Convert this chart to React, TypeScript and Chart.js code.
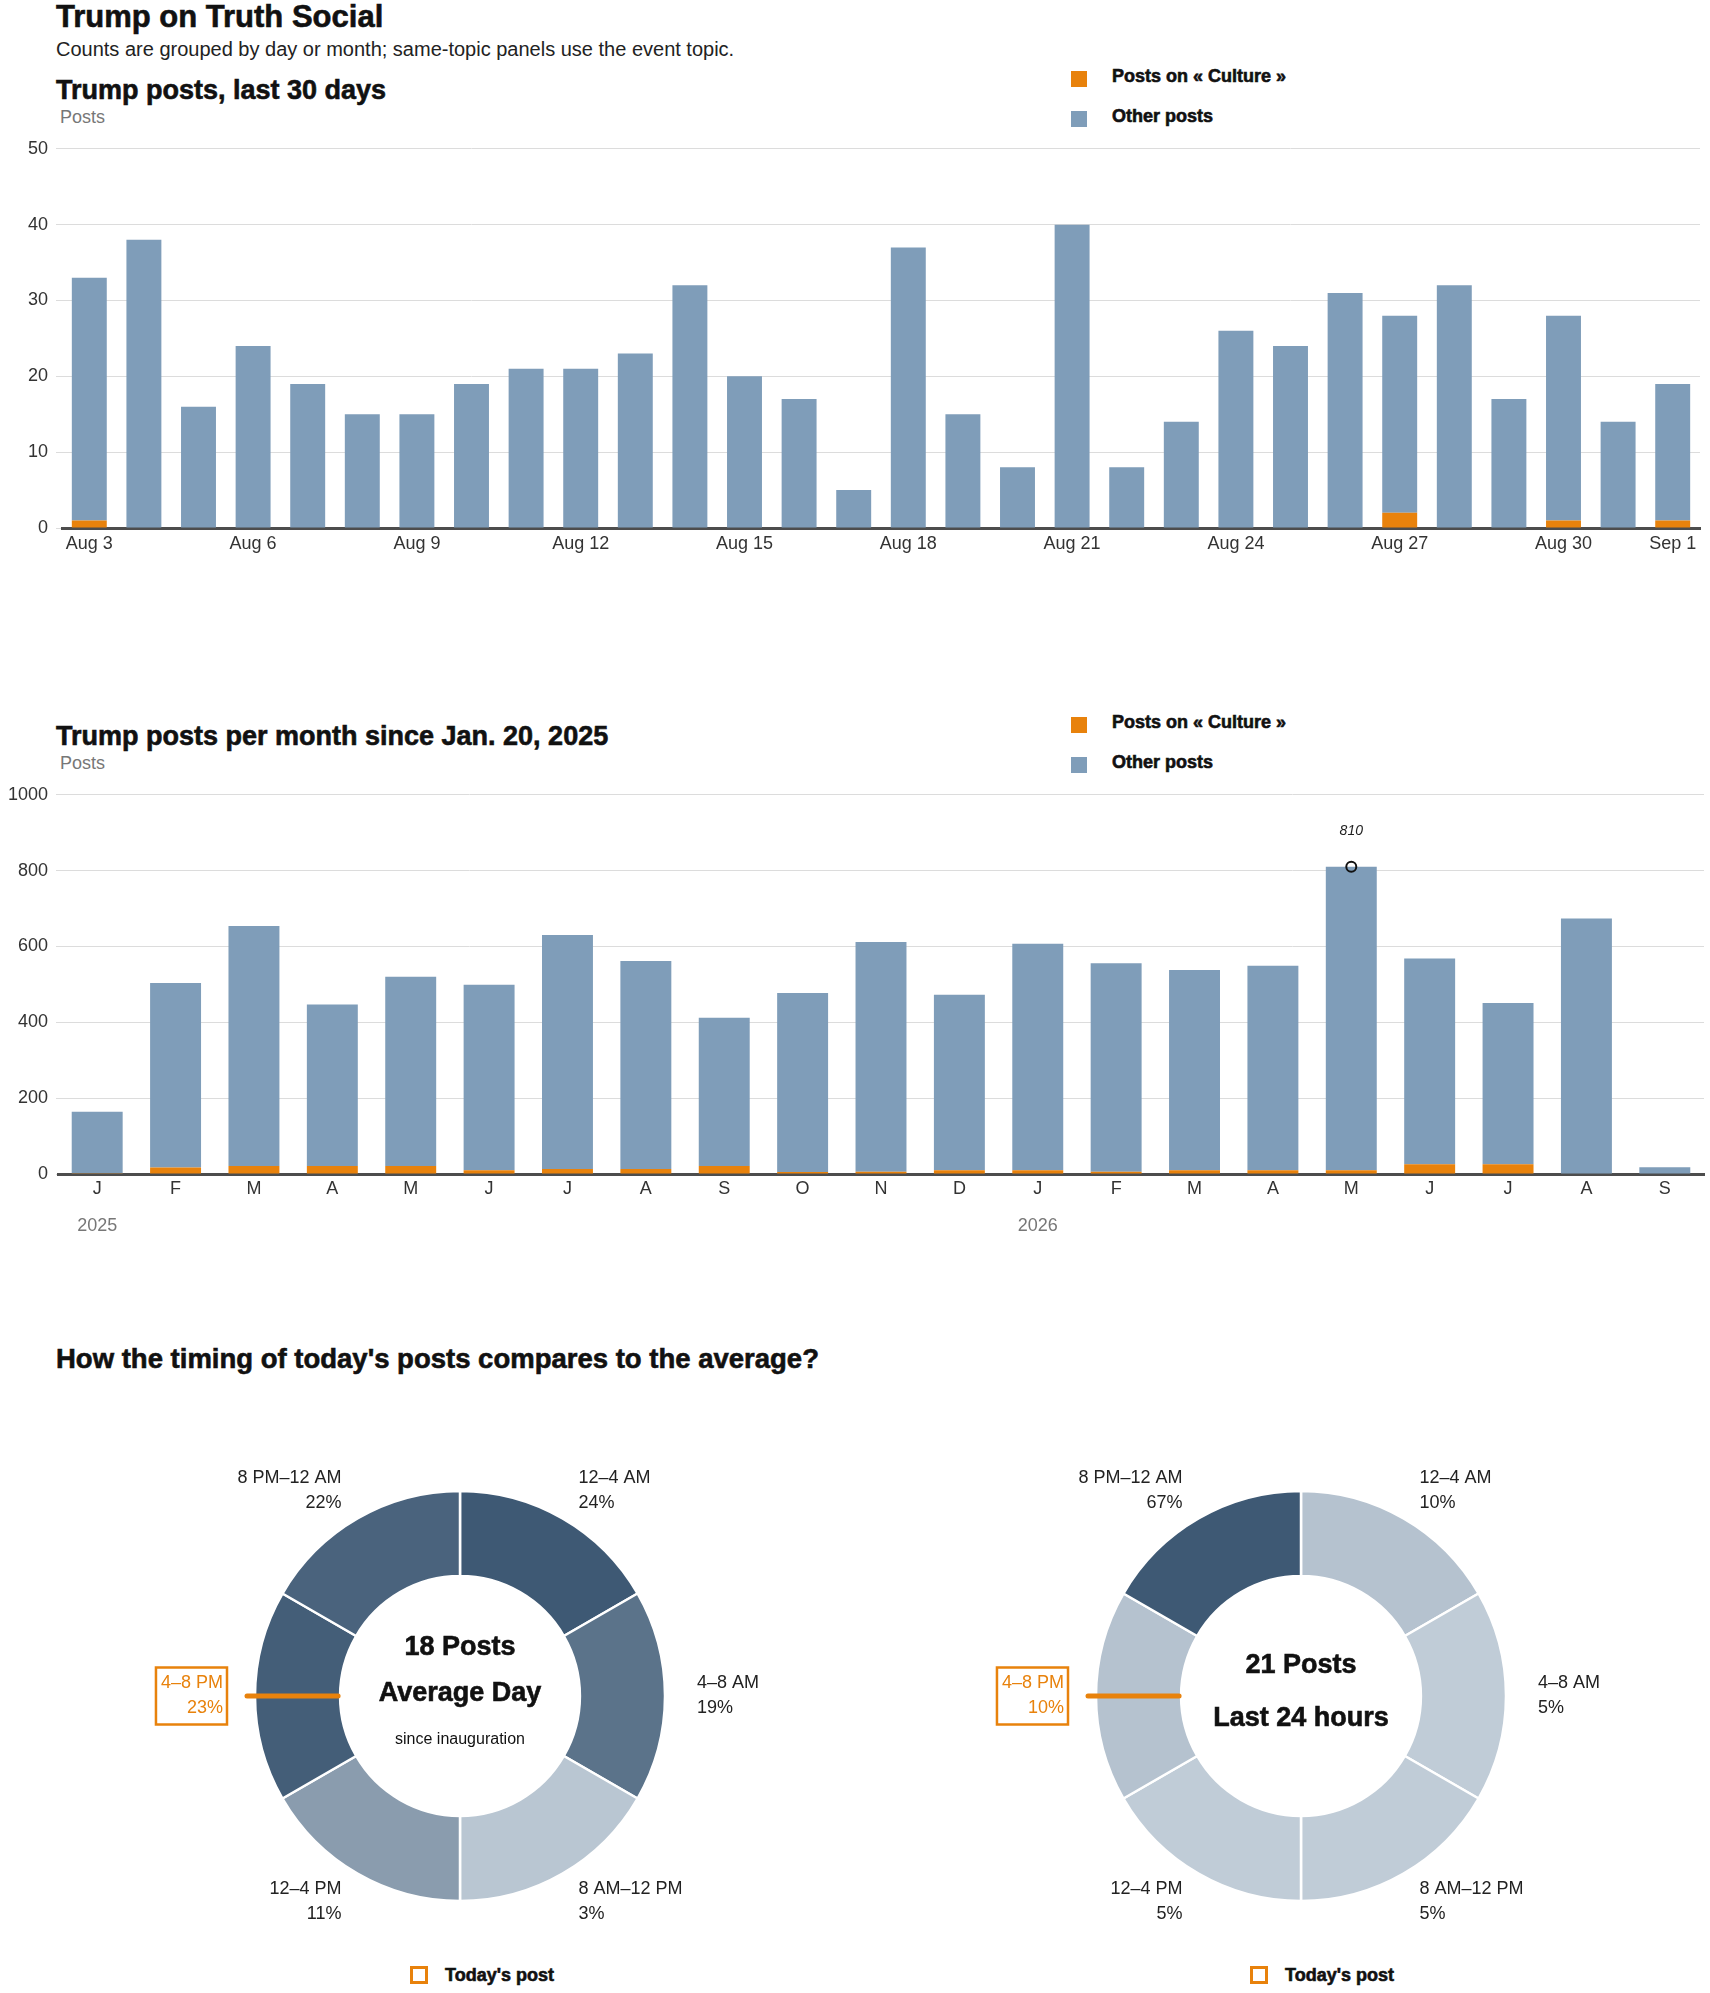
import { useEffect, useRef, type ReactNode } from 'react';
import { Chart, registerables, type ChartConfiguration, type Plugin, type ArcElement } from 'chart.js';

Chart.register(...registerables);

const FONT = '"Liberation Sans", Arial, sans-serif';
Chart.defaults.font.family = FONT;

const ORANGE = '#e8820c';
const BLUE = '#7f9db9';
const GRID = '#dcdcdc';
const AXIS = '#4d4d4d';
const TICK = '#333333';

// daily panel (Aug 3 -> Sep 1)
const dayLabels = [
  'Aug 3', 'Aug 4', 'Aug 5', 'Aug 6', 'Aug 7', 'Aug 8', 'Aug 9', 'Aug 10', 'Aug 11', 'Aug 12',
  'Aug 13', 'Aug 14', 'Aug 15', 'Aug 16', 'Aug 17', 'Aug 18', 'Aug 19', 'Aug 20', 'Aug 21', 'Aug 22',
  'Aug 23', 'Aug 24', 'Aug 25', 'Aug 26', 'Aug 27', 'Aug 28', 'Aug 29', 'Aug 30', 'Aug 31', 'Sep 1',
];
const dailyCulture = [1, 0, 0, 0, 0, 0, 0, 0, 0, 0, 0, 0, 0, 0, 0, 0, 0, 0, 0, 0, 0, 0, 0, 0, 2, 0, 0, 1, 0, 1];
const dailyOther = [32, 38, 16, 24, 19, 15, 15, 19, 21, 21, 23, 32, 20, 17, 5, 37, 15, 8, 40, 8, 14, 26, 24, 31, 26, 32, 17, 27, 14, 18];
const dailyTicks = [0, 10, 20, 30, 40, 50];

// monthly panel (Jan 2025 -> Sep 2026)
const monthLabels = ['J', 'F', 'M', 'A', 'M', 'J', 'J', 'A', 'S', 'O', 'N', 'D', 'J', 'F', 'M', 'A', 'M', 'J', 'J', 'A', 'S'];
const monthCulture = [2, 17, 21, 21, 21, 10, 13, 13, 21, 5, 6, 10, 10, 6, 10, 10, 10, 26, 26, 0, 0];
const monthOther = [162, 487, 633, 426, 499, 489, 617, 549, 391, 472, 606, 463, 597, 550, 528, 539, 800, 542, 425, 674, 18];
const monthTicks = [0, 200, 400, 600, 800, 1000];
const yearStarts = [
  { index: 0, label: '2025' },
  { index: 12, label: '2026' },
];

// donuts
const slotLabels = ['12–4 AM', '4–8 AM', '8 AM–12 PM', '12–4 PM', '4–8 PM', '8 PM–12 AM'];
const slotHours = [4, 4, 4, 4, 4, 4];
const averageShare = [24, 19, 3, 11, 23, 22];
const todayShare = [10, 5, 5, 5, 10, 67];
const highlightSlot = 4;

const LIGHT = [202, 213, 223];
const DARK = [62, 89, 116];
function shareColor(v: number, max: number) {
  const t = v / max;
  const c = LIGHT.map((l, k) => Math.round(l + (DARK[k] - l) * t));
  return `rgb(${c[0]}, ${c[1]}, ${c[2]})`;
}

function Text({ x, baseline, size, weight = 400, color = '#111', heavy = false, children }: {
  x: number; baseline: number; size: number; weight?: number; color?: string; heavy?: boolean; children: ReactNode;
}) {
  return (
    <div
      style={{
        position: 'absolute',
        left: x,
        top: baseline - 0.8465 * size,
        fontFamily: FONT,
        fontSize: size,
        fontWeight: weight,
        lineHeight: 1,
        color,
        whiteSpace: 'nowrap',
        WebkitTextStroke: heavy ? `0.6px ${color}` : undefined,
      }}
    >
      {children}
    </div>
  );
}

function SeriesLegend({ shift }: { shift: number }) {
  return (
    <>
      <div style={{ position: 'absolute', left: 1071, top: 71 + shift, width: 16, height: 16, background: ORANGE }} />
      <Text x={1112} baseline={82 + shift} size={18} weight={700} heavy>Posts on « Culture »</Text>
      <div style={{ position: 'absolute', left: 1071, top: 111 + shift, width: 16, height: 16, background: BLUE }} />
      <Text x={1112} baseline={122 + shift} size={18} weight={700} heavy>Other posts</Text>
    </>
  );
}

function DailyChart() {
  const canvasRef = useRef<HTMLCanvasElement | null>(null);
  useEffect(() => {
    if (!canvasRef.current) return;
    const config: ChartConfiguration<'bar'> = {
      type: 'bar',
      data: {
        labels: dayLabels,
        datasets: [
          { label: 'Posts on « Culture »', data: dailyCulture, backgroundColor: ORANGE, stack: 'posts', barPercentage: 0.64, categoryPercentage: 1 },
          { label: 'Other posts', data: dailyOther, backgroundColor: BLUE, stack: 'posts', barPercentage: 0.64, categoryPercentage: 1 },
        ],
      },
      options: {
        responsive: false,
        animation: false,
        layout: { padding: { top: 17, right: 10, left: 0, bottom: 0 } },
        plugins: { legend: { display: false }, tooltip: { enabled: false } },
        scales: {
          x: {
            stacked: true,
            grid: { display: false, drawTicks: false },
            border: { color: AXIS, width: 3 },
            ticks: {
              autoSkip: false,
              maxRotation: 0,
              padding: 5,
              color: TICK,
              font: { size: 18 },
              // every third day, plus the last one
              callback: (_v, i) => (i % 3 === 0 || i === dayLabels.length - 1 ? dayLabels[i] : ''),
            },
            afterFit: (s) => { s.height = 30; },
          },
          y: {
            stacked: true,
            min: dailyTicks[0],
            max: dailyTicks[dailyTicks.length - 1],
            ticks: { stepSize: dailyTicks[1] - dailyTicks[0], padding: 8, color: TICK, font: { size: 18 } },
            grid: { color: GRID, tickLength: 6 },
            border: { display: false },
            afterFit: (s) => { s.width = 62; },
          },
        },
      },
    };
    const chart = new Chart(canvasRef.current, config);
    return () => chart.destroy();
  }, []);
  return <canvas ref={canvasRef} width={1710} height={428} style={{ position: 'absolute', left: 0, top: 130 }} />;
}

const yearLabels: Plugin<'bar'> = {
  id: 'yearLabels',
  afterDraw(chart) {
    const { ctx, chartArea } = chart;
    const x = chart.scales.x;
    ctx.save();
    ctx.font = `18px ${FONT}`;
    ctx.fillStyle = '#777';
    ctx.textAlign = 'center';
    ctx.textBaseline = 'middle';
    yearStarts.forEach((y) => ctx.fillText(y.label, x.getPixelForValue(y.index), chartArea.bottom + 52));
    ctx.restore();
  },
};

const peakMarker: Plugin<'bar'> = {
  id: 'peakMarker',
  afterDatasetsDraw(chart) {
    const totals = monthOther.map((v, i) => v + monthCulture[i]);
    const peak = Math.max(...totals);
    const idx = totals.indexOf(peak);
    const px = chart.scales.x.getPixelForValue(idx);
    const py = chart.scales.y.getPixelForValue(peak);
    const { ctx } = chart;
    ctx.save();
    ctx.beginPath();
    ctx.arc(px, py, 5, 0, Math.PI * 2);
    ctx.lineWidth = 2;
    ctx.strokeStyle = '#111';
    ctx.stroke();
    ctx.font = `italic 14px ${FONT}`;
    ctx.fillStyle = '#222';
    ctx.textAlign = 'center';
    ctx.textBaseline = 'middle';
    ctx.fillText(String(peak), px, py - 36);
    ctx.restore();
  },
};

function MonthlyChart() {
  const canvasRef = useRef<HTMLCanvasElement | null>(null);
  useEffect(() => {
    if (!canvasRef.current) return;
    const config: ChartConfiguration<'bar'> = {
      type: 'bar',
      data: {
        labels: monthLabels,
        datasets: [
          { label: 'Posts on « Culture »', data: monthCulture, backgroundColor: ORANGE, stack: 'posts', barPercentage: 0.65, categoryPercentage: 1 },
          { label: 'Other posts', data: monthOther, backgroundColor: BLUE, stack: 'posts', barPercentage: 0.65, categoryPercentage: 1 },
        ],
      },
      options: {
        responsive: false,
        animation: false,
        layout: { padding: { top: 17, right: 6, left: 0, bottom: 0 } },
        plugins: { legend: { display: false }, tooltip: { enabled: false } },
        scales: {
          x: {
            stacked: true,
            grid: { display: false, drawTicks: false },
            border: { color: AXIS, width: 3 },
            ticks: { autoSkip: false, maxRotation: 0, padding: 4, color: TICK, font: { size: 18 } },
            afterFit: (s) => { s.height = 70; },
          },
          y: {
            stacked: true,
            min: monthTicks[0],
            max: monthTicks[monthTicks.length - 1],
            ticks: {
              stepSize: monthTicks[1] - monthTicks[0],
              padding: 8,
              color: TICK,
              font: { size: 18 },
              callback: (v) => String(v), // no thousands separator
            },
            grid: { color: GRID, tickLength: 2 },
            border: { display: false },
            afterFit: (s) => { s.width = 58; },
          },
        },
      },
      plugins: [yearLabels, peakMarker],
    };
    const chart = new Chart(canvasRef.current, config);
    return () => chart.destroy();
  }, []);
  return <canvas ref={canvasRef} width={1710} height={468} style={{ position: 'absolute', left: 0, top: 776 }} />;
}

interface CenterLine { text: string; dy: number; size: number; bold: boolean }

function donutDecor(shares: number[], center: CenterLine[]): Plugin<'doughnut'> {
  return {
    id: 'donutDecor',
    afterDraw(chart) {
      const { ctx } = chart;
      const arcs = chart.getDatasetMeta(0).data as unknown as ArcElement[];
      ctx.save();
      let cx = 0;
      let cy = 0;
      arcs.forEach((arc, i) => {
        const { x, y, startAngle, endAngle, outerRadius, innerRadius } = arc.getProps(
          ['x', 'y', 'startAngle', 'endAngle', 'outerRadius', 'innerRadius'], true,
        );
        cx = x;
        cy = y;
        const mid = (startAngle + endAngle) / 2;
        const cos = Math.cos(mid);
        const sin = Math.sin(mid);
        const ax = x + (outerRadius + 32) * cos;
        const ay = y + (outerRadius + 32) * sin;
        const onRight = cos > 0.01;
        const hot = i === highlightSlot;
        const pct = `${shares[i]}%`;
        ctx.font = `18px ${FONT}`;
        ctx.textAlign = onRight ? 'left' : 'right';
        ctx.textBaseline = 'middle';
        ctx.fillStyle = hot ? ORANGE : '#222';
        ctx.fillText(slotLabels[i], ax, ay - 12.5);
        ctx.fillText(pct, ax, ay + 12.5);
        if (hot) {
          const w = Math.max(ctx.measureText(slotLabels[i]).width, ctx.measureText(pct).width);
          const x0 = onRight ? ax - 4 : ax - w - 5;
          ctx.strokeStyle = ORANGE;
          ctx.lineWidth = 2.5;
          ctx.strokeRect(x0, ay - 28.5, w + 9, 57);
          ctx.lineWidth = 5;
          ctx.lineCap = 'round';
          ctx.beginPath();
          ctx.moveTo(x + (outerRadius + 8) * cos, y + (outerRadius + 8) * sin);
          ctx.lineTo(x + (innerRadius + 2) * cos, y + (innerRadius + 2) * sin);
          ctx.stroke();
        }
      });
      ctx.textAlign = 'center';
      ctx.textBaseline = 'middle';
      ctx.fillStyle = '#111';
      ctx.strokeStyle = '#111';
      ctx.lineWidth = 0.6;
      center.forEach((c) => {
        ctx.font = `${c.bold ? 'bold ' : ''}${c.size}px ${FONT}`;
        ctx.fillText(c.text, cx, cy + c.dy);
        if (c.bold) ctx.strokeText(c.text, cx, cy + c.dy);
      });
      ctx.restore();
    },
  };
}

function Donut({ shares, center, left }: { shares: number[]; center: CenterLine[]; left: number }) {
  const canvasRef = useRef<HTMLCanvasElement | null>(null);
  useEffect(() => {
    if (!canvasRef.current) return;
    const max = Math.max(...shares);
    const config: ChartConfiguration<'doughnut'> = {
      type: 'doughnut',
      data: {
        labels: slotLabels,
        datasets: [{
          data: slotHours,
          backgroundColor: shares.map((v) => shareColor(v, max)),
          borderColor: '#ffffff',
          borderWidth: 2.5,
          hoverOffset: 0,
        }],
      },
      options: {
        responsive: false,
        animation: false,
        radius: 205,
        cutout: '58.5%',
        layout: { padding: 0 },
        plugins: { legend: { display: false }, tooltip: { enabled: false } },
      },
      plugins: [donutDecor(shares, center)],
    };
    const chart = new Chart(canvasRef.current, config);
    return () => chart.destroy();
  }, [shares, center]);
  return <canvas ref={canvasRef} width={700} height={500} style={{ position: 'absolute', left, top: 1446 }} />;
}

function TodayLegend({ x }: { x: number }) {
  return (
    <>
      <div
        style={{
          position: 'absolute', left: x, top: 1966, width: 18, height: 18,
          border: `3.5px solid ${ORANGE}`, boxSizing: 'border-box',
        }}
      />
      <Text x={x + 35} baseline={1981} size={18} weight={700} heavy>Today's post</Text>
    </>
  );
}

const averageCenter: CenterLine[] = [
  { text: '18 Posts', dy: -48.5, size: 27, bold: true },
  { text: 'Average Day', dy: -2.5, size: 27, bold: true },
  { text: 'since inauguration', dy: 43.5, size: 16, bold: false },
];
const todayCenter: CenterLine[] = [
  { text: '21 Posts', dy: -30, size: 27, bold: true },
  { text: 'Last 24 hours', dy: 22.5, size: 27, bold: true },
];

export default function App() {
  return (
    <div style={{ position: 'absolute', left: 0, top: 0, width: 1710, height: 1993, background: '#fff', overflow: 'hidden' }}>
      <Text x={56} baseline={27} size={31} weight={700} heavy>Trump on Truth Social</Text>
      <Text x={56} baseline={56} size={20} color="#222">Counts are grouped by day or month; same-topic panels use the event topic.</Text>

      <Text x={56} baseline={100} size={27} weight={700} heavy>Trump posts, last 30 days</Text>
      <Text x={60} baseline={123} size={18} color="#777">Posts</Text>
      <SeriesLegend shift={0} />
      <DailyChart />

      <Text x={56} baseline={746} size={27} weight={700} heavy>Trump posts per month since Jan. 20, 2025</Text>
      <Text x={60} baseline={769} size={18} color="#777">Posts</Text>
      <SeriesLegend shift={646} />
      <MonthlyChart />

      <Text x={56} baseline={1368} size={27.5} weight={700} heavy>How the timing of today's posts compares to the average?</Text>
      <Donut shares={averageShare} center={averageCenter} left={110} />
      <Donut shares={todayShare} center={todayCenter} left={951} />
      <TodayLegend x={410} />
      <TodayLegend x={1250} />
    </div>
  );
}
